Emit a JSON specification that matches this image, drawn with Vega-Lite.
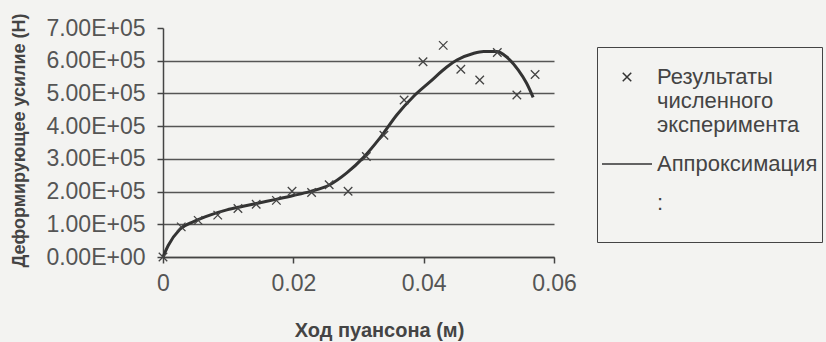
{
  "$schema": "https://vega.github.io/schema/vega-lite/v6.json",
  "width": 391,
  "height": 229,
  "autosize": {"type": "none"},
  "padding": {"left": 163, "top": 28, "right": 272, "bottom": 85},
  "background": "#f3f3f1",
  "config": {"view": {"stroke": null}, "font": "Liberation Sans"},
  "datasets": {
    "exp": [
      {"x": 0, "y": 0, "series": "Результаты численного эксперимента"},
      {"x": 0.0028, "y": 92000, "series": "Результаты численного эксперимента"},
      {"x": 0.0054, "y": 112000, "series": "Результаты численного эксперимента"},
      {"x": 0.0084, "y": 128000, "series": "Результаты численного эксперимента"},
      {"x": 0.0115, "y": 148000, "series": "Результаты численного эксперимента"},
      {"x": 0.0143, "y": 161000, "series": "Результаты численного эксперимента"},
      {"x": 0.0174, "y": 173000, "series": "Результаты численного эксперимента"},
      {"x": 0.0198, "y": 201000, "series": "Результаты численного эксперимента"},
      {"x": 0.0228, "y": 197000, "series": "Результаты численного эксперимента"},
      {"x": 0.0255, "y": 221000, "series": "Результаты численного эксперимента"},
      {"x": 0.0284, "y": 201000, "series": "Результаты численного эксперимента"},
      {"x": 0.0312, "y": 307000, "series": "Результаты численного эксперимента"},
      {"x": 0.0339, "y": 372000, "series": "Результаты численного эксперимента"},
      {"x": 0.037, "y": 480000, "series": "Результаты численного эксперимента"},
      {"x": 0.0399, "y": 597000, "series": "Результаты численного эксперимента"},
      {"x": 0.043, "y": 647000, "series": "Результаты численного эксперимента"},
      {"x": 0.0457, "y": 574000, "series": "Результаты численного эксперимента"},
      {"x": 0.0486, "y": 541000, "series": "Результаты численного эксперимента"},
      {"x": 0.0513, "y": 625000, "series": "Результаты численного эксперимента"},
      {"x": 0.0543, "y": 495000, "series": "Результаты численного эксперимента"},
      {"x": 0.0571, "y": 558000, "series": "Результаты численного эксперимента"}
    ],
    "fit": [
      {"x": 0, "y": 0},
      {"x": 0.0008, "y": 35000},
      {"x": 0.0026, "y": 85000},
      {"x": 0.0047, "y": 108000},
      {"x": 0.0072, "y": 128000},
      {"x": 0.0098, "y": 144000},
      {"x": 0.0123, "y": 155000},
      {"x": 0.0149, "y": 166000},
      {"x": 0.0175, "y": 177000},
      {"x": 0.02, "y": 188000},
      {"x": 0.0225, "y": 200000},
      {"x": 0.0256, "y": 221000},
      {"x": 0.0282, "y": 257000},
      {"x": 0.0307, "y": 303000},
      {"x": 0.0333, "y": 364000},
      {"x": 0.0359, "y": 435000},
      {"x": 0.0384, "y": 490000},
      {"x": 0.041, "y": 536000},
      {"x": 0.0435, "y": 580000},
      {"x": 0.0451, "y": 602000},
      {"x": 0.0476, "y": 622000},
      {"x": 0.0492, "y": 628000},
      {"x": 0.0512, "y": 628000},
      {"x": 0.0527, "y": 612000},
      {"x": 0.0545, "y": 572000},
      {"x": 0.0558, "y": 531000},
      {"x": 0.0568, "y": 488000}
    ]
  },
  "encoding": {
    "x": {
      "field": "x", "type": "quantitative",
      "scale": {"domain": [0, 0.06], "nice": false},
      "axis": {
        "values": [0, 0.02, 0.04, 0.06],
        "grid": false,
        "domainColor": "#444444", "domainWidth": 1.5,
        "tickColor": "#444444", "tickWidth": 1.5, "tickSize": 6,
        "labelFontSize": 23, "labelColor": "#555555", "labelPadding": 9, "labelFlush": false, "labelOverlap": false,
        "labelExpr": "datum.value == 0 ? '0' : format(datum.value, '.2f')",
        "title": "Ход пуансона (м)",
        "titleFontSize": 20, "titleFontWeight": "bold", "titleColor": "#444444",
        "titleX": 216, "titleY": 73, "titleBaseline": "middle", "titleAlign": "center"
      }
    },
    "y": {
      "field": "y", "type": "quantitative",
      "scale": {"domain": [0, 700000], "nice": false},
      "axis": {
        "values": [0, 100000, 200000, 300000, 400000, 500000, 600000, 700000],
        "grid": true, "gridColor": "#555555", "gridWidth": 1.5,
        "gridOpacity": {"condition": {"test": "datum.value >= 700000", "value": 0}, "value": 1},
        "domainColor": "#444444", "domainWidth": 1.5,
        "tickColor": "#444444", "tickWidth": 1.5, "tickSize": 6,
        "labelFontSize": 23, "labelColor": "#555555", "labelPadding": 12, "labelOverlap": false,
        "labelExpr": "datum.value == 0 ? '0.00E+00' : format(datum.value / 100000, '.2f') + 'E+05'",
        "title": "Деформирующее усилие (Н)",
        "titleFontSize": 18, "titleFontWeight": "bold", "titleColor": "#444444",
        "titleX": -144, "titleY": 112, "titleBaseline": "middle", "titleAlign": "center", "titleAngle": -90
      }
    }
  },
  "layer": [
    {
      "data": {"name": "fit"},
      "mark": {"type": "line", "interpolate": "monotone", "color": "#333333", "strokeWidth": 3}
    },
    {
      "data": {"name": "exp"},
      "mark": {"type": "point", "filled": false, "size": 2500, "strokeWidth": 1.3, "color": "#444444", "opacity": 1},
      "encoding": {
        "shape": {
          "field": "series", "type": "nominal",
          "scale": {
            "domain": ["Результаты численного эксперимента", "Аппроксимация", "blank"],
            "range": ["M-0.17,-0.17L0.17,0.17M0.17,-0.17L-0.17,0.17", "stroke", "M0,0"]
          },
          "legend": {
            "orient": "none", "legendX": 434, "legendY": 19,
            "title": null, "padding": 4,
            "strokeColor": "#444444",
            "symbolSize": 2500, "symbolStrokeColor": "#333333", "symbolStrokeWidth": 1.5,
            "labelFontSize": 22, "labelColor": "#444444", "labelOffset": 4, "labelLimit": 400,
            "rowPadding": 2,
            "labelExpr": "datum.value == 'Результаты численного эксперимента' ? ['Результаты', 'численного', 'эксперимента'] : datum.value == 'blank' ? ['        :', ' '] : datum.label"
          }
        }
      }
    }
  ]
}
